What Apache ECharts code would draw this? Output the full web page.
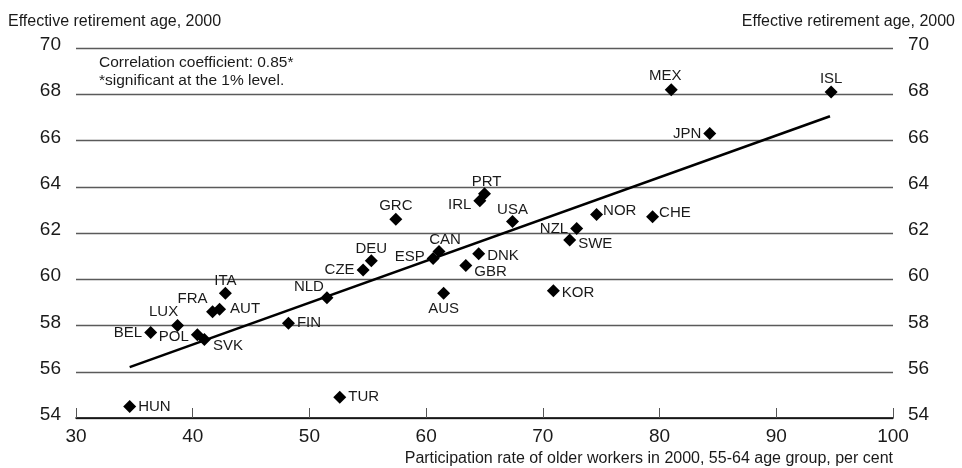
<!DOCTYPE html>
<html><head><meta charset="utf-8">
<script src="https://cdn.jsdelivr.net/npm/echarts@6/dist/echarts.min.js"></script>
<style>html,body{margin:0;padding:0;background:#fff}#c{width:962px;height:468px}</style>
</head><body><div id="c"></div>
<script>
const countries = ['HUN','BEL','LUX','POL','SVK','FRA','AUT','ITA','FIN','NLD','TUR','CZE','DEU','GRC','ESP','CAN','AUS','IRL','PRT','USA','DNK','GBR','KOR','NZL','SWE','NOR','CHE','JPN','MEX','ISL'];
const participation = [34.6,36.4,38.7,40.4,41.0,41.7,42.3,42.8,48.2,51.5,52.6,54.6,55.3,57.4,60.6,61.1,61.5,64.6,65.0,67.4,64.5,63.4,70.9,72.9,72.3,74.6,79.4,84.3,81.0,94.7];
const retirementAge = [54.5,57.7,58.0,57.6,57.4,58.6,58.7,59.4,58.1,59.2,54.9,60.4,60.8,62.6,60.9,61.2,59.4,63.4,63.7,62.5,61.1,60.6,59.5,62.2,61.7,62.8,62.7,66.3,68.2,68.1];
const fitLineX = [34.6, 94.6];
const fitLineY = [56.2, 67.05];
const yTicks = [54,56,58,60,62,64,66,68,70];
const xTicks = [30,40,50,60,70,80,90,100];
const yTitle = 'Effective retirement age, 2000';
const xTitle = 'Participation rate of older workers in 2000, 55-64 age group, per cent';
const noteText = ['Correlation coefficient: 0.85*', '*significant at the 1% level.'];

// label placement (style only)
const labelPlace = {
  HUN:['right',[0,0]], BEL:['left',[0,0]], LUX:['top',[-14,2]], POL:['left',[0,2]], SVK:['right',[0,6]],
  FRA:['top',[-20,3]], AUT:['right',[2,0]], ITA:['top',[0,4]], FIN:['right',[0,0]], NLD:['top',[-18,5]],
  TUR:['right',[0,0]], CZE:['left',[0,0]], DEU:['top',[0,4]], GRC:['top',[0,3]], ESP:['left',[0,-2]],
  CAN:['top',[6,4]], AUS:['bottom',[0,0]], IRL:['left',[0,4]], PRT:['top',[2,4]], USA:['top',[0,4]],
  DNK:['right',[0,2]], GBR:['right',[0,6]], KOR:['right',[0,2]], NZL:['left',[0,0]], SWE:['right',[0,4]],
  NOR:['right',[-2,-4]], CHE:['right',[-2,-4]], JPN:['left',[0,0]], MEX:['top',[-6,2]], ISL:['top',[0,3]]
};

const pts = countries.map((c,i)=>{
  const lp = labelPlace[c];
  return {name:c, value:[participation[i], retirementAge[i]],
    label:{show:true, position:lp[0], offset:lp[1], distance:2, formatter:c}};
});

const chart = echarts.init(document.getElementById('c'));
const font = 'Liberation Sans, Arial, sans-serif';
const tickFont = '"Liberation Sans Narrow", "Arial Narrow", "Liberation Sans", sans-serif';
const txtColor = '#1a1a1a';
chart.setOption({
  animation:false,
  textStyle:{fontFamily:font},
  grid:{left:76, right:69, top:48, bottom:50},
  graphic:[
    {type:'text', left:8, top:14, style:{text:yTitle, font:'16px '+font, fill:txtColor, textVerticalAlign:'middle'}},
    {type:'text', right:7, top:14, style:{text:yTitle, font:'16px '+font, fill:txtColor, textVerticalAlign:'middle'}},
    {type:'text', right:69, top:451, style:{text:xTitle, font:'16px '+font, fill:txtColor}},
    {type:'text', left:99, top:54, style:{text:noteText.join('\n'), font:'15.5px '+font, lineHeight:18, fill:txtColor}}
  ],
  xAxis:{type:'value', min:xTicks[0], max:xTicks[xTicks.length-1], interval:10,
    axisLine:{lineStyle:{color:'#000', width:1.6}},
    axisTick:{inside:true, length:10, lineStyle:{color:'#555'}},
    axisLabel:{fontSize:19, color:txtColor, margin:9, fontFamily:tickFont},
    splitLine:{show:false}},
  yAxis:[
    {type:'value', min:yTicks[0], max:yTicks[yTicks.length-1], interval:2, position:'left',
      axisLine:{show:false}, axisTick:{show:false},
      axisLabel:{fontSize:19, color:txtColor, margin:15, fontFamily:tickFont, verticalAlign:'bottom', lineHeight:6},
      splitLine:{lineStyle:{color:'#5a5a5a', width:1.3}}},
    {type:'value', min:yTicks[0], max:yTicks[yTicks.length-1], interval:2, position:'right',
      axisLine:{show:false}, axisTick:{show:false},
      axisLabel:{fontSize:19, color:txtColor, margin:15, fontFamily:tickFont, verticalAlign:'bottom', lineHeight:6},
      splitLine:{show:false}}
  ],
  series:[
    {type:'line', data:[[fitLineX[0],fitLineY[0]],[fitLineX[1],fitLineY[1]]], symbol:'none',
      lineStyle:{color:'#000', width:2.6}, z:2},
    {type:'scatter', data:pts, symbol:'diamond', symbolSize:13,
      itemStyle:{color:'#000', opacity:1},
      label:{fontSize:15, color:txtColor, fontFamily:font}, z:3}
  ]
});
</script></body></html>
